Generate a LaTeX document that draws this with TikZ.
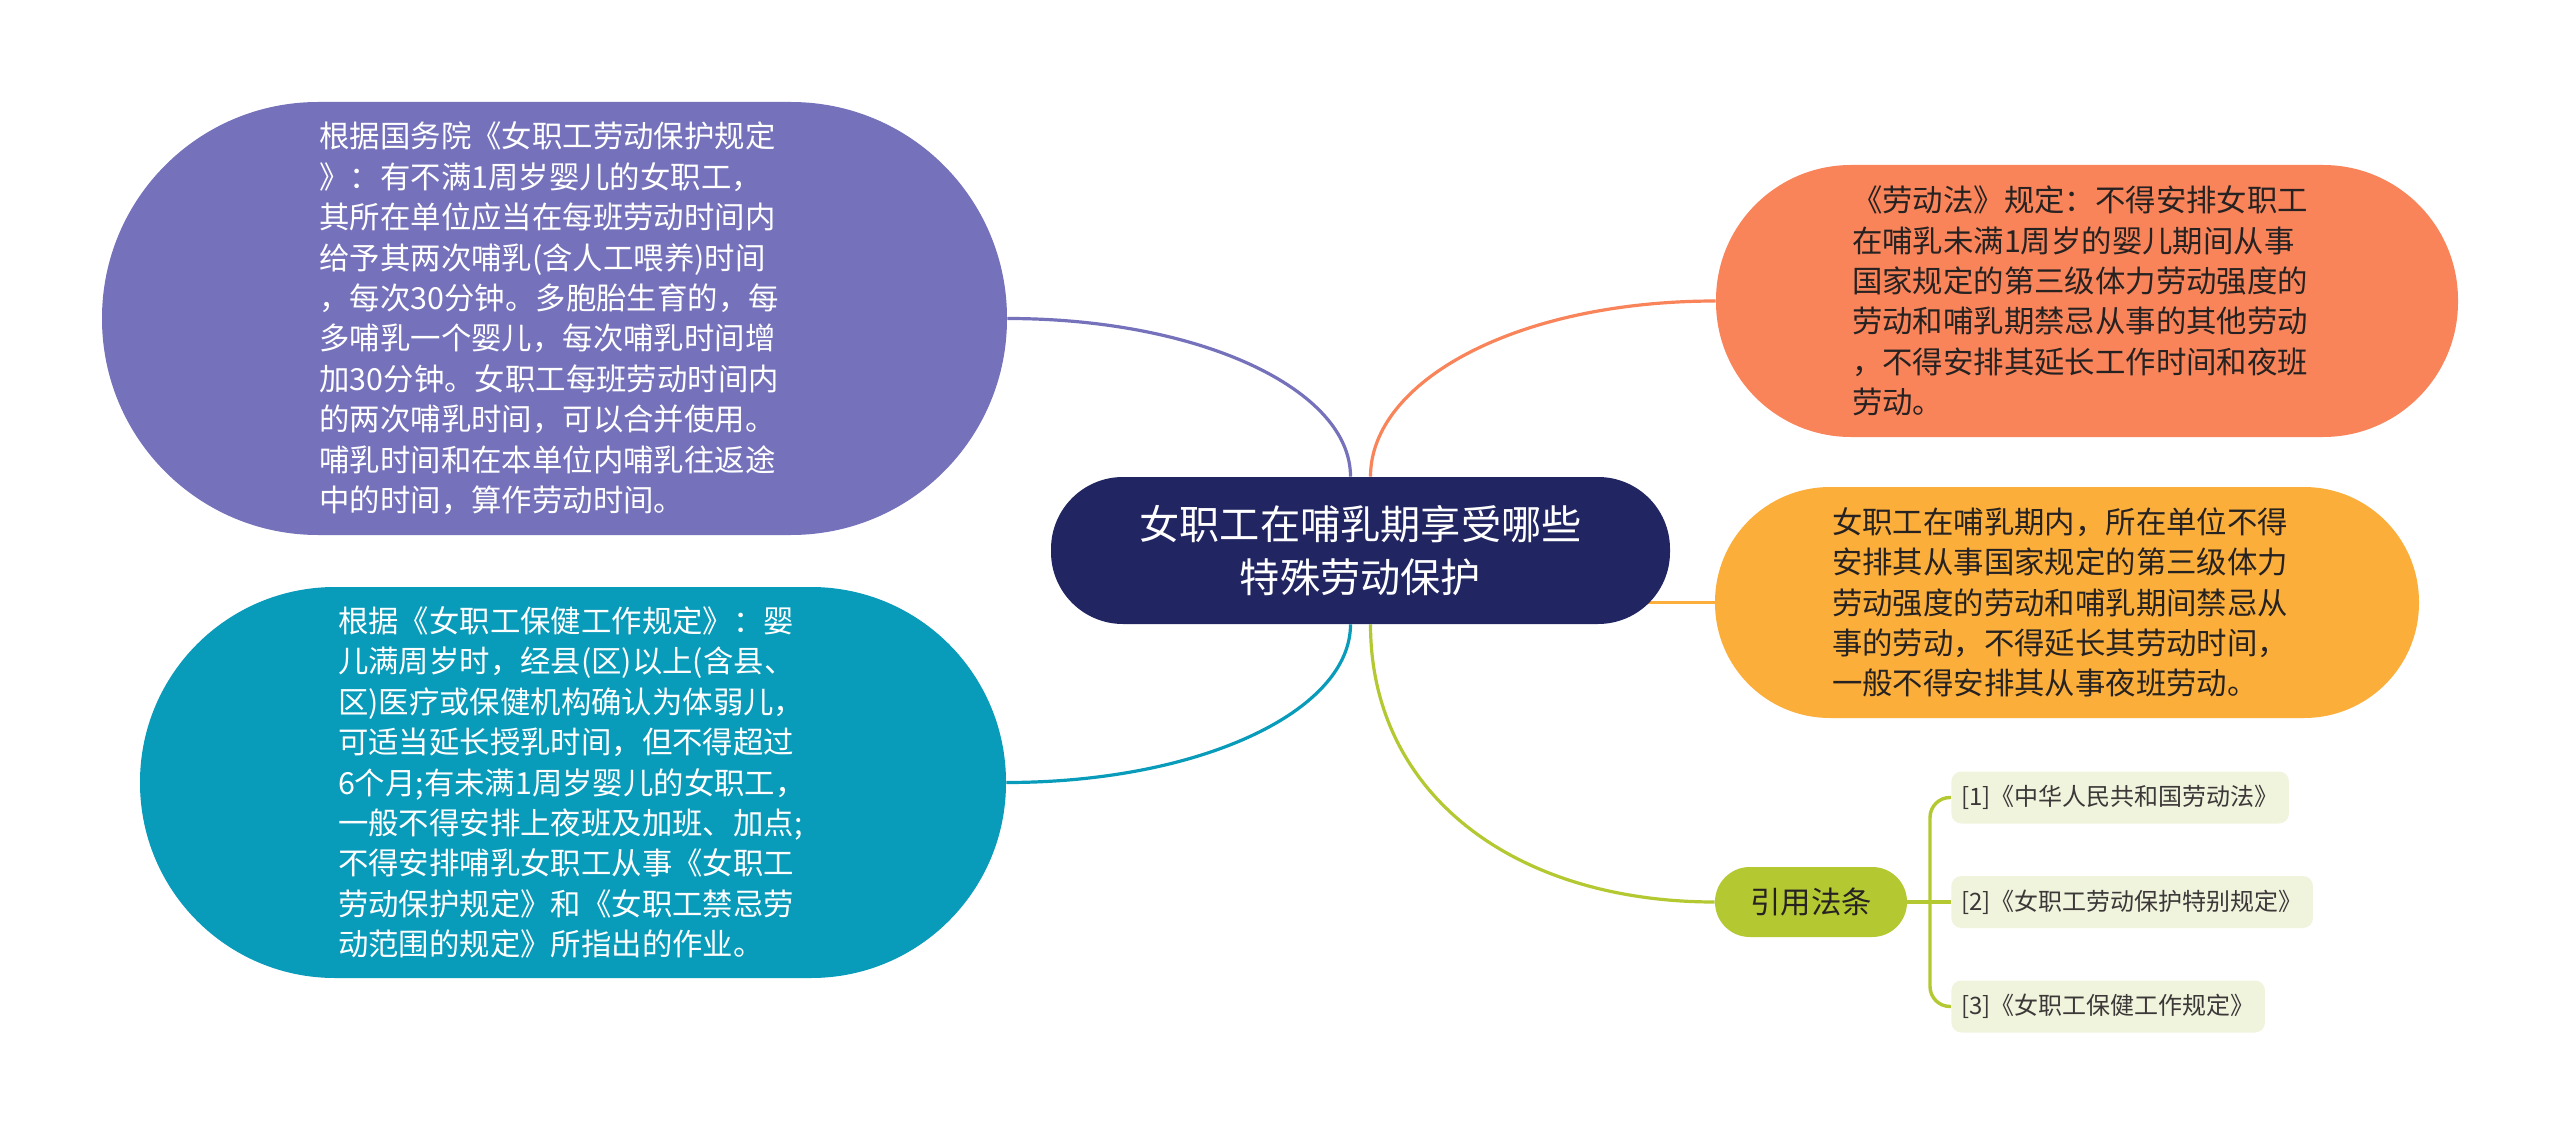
\documentclass[tikz,border=0pt]{standalone}
\usepackage{fontspec}
\setmainfont{Noto Sans CJK SC}
\usetikzlibrary{backgrounds}
\definecolor{mnavy}{RGB}{33,37,98}
\definecolor{mpurple}{RGB}{117,114,187}
\definecolor{mteal}{RGB}{8,155,186}
\definecolor{morange}{RGB}{249,132,90}
\definecolor{myellow}{RGB}{251,174,58}
\definecolor{mgreen}{RGB}{180,200,50}
\definecolor{mpale}{RGB}{241,244,221}
\definecolor{mtext}{RGB}{38,34,34}

\begin{document}
\begin{tikzpicture}[x=0.5pt, y=0.5pt,
  pill/.style={inner sep=0pt, align=left, text width=235pt,
               font=\fontsize{15.2pt}{20.2pt}\selectfont},
  conn/.style={line width=1.6pt},
  refbox/.style={fill=mpale, rounded corners=5pt, anchor=west,
                 minimum height=26pt, inner xsep=5pt, text=mtext!90,
                 font=\fontsize{12pt}{14pt}\selectfont}
]
\useasboundingbox (0,0) rectangle (2560,-1134);

% ── Tema centrale ───────────────────────────────────────
\node[fill=mnavy, text=white, rounded corners=36pt, minimum width=309.5pt,
      minimum height=73.5pt, align=center,
      font=\fontsize{20.1pt}{26.5pt}\selectfont] (main) at (1360.5,-550.5)
  {女职工在哺乳期享受哪些\\特殊劳动保护};

% ── Rami a sinistra ─────────────────────────────────────
\node[pill, fill=mpurple, text=white, minimum width=452.5pt,
      minimum height=216.5pt, rounded corners=108pt] (gwy) at (554.5,-318.5)
  {根据国务院《女职工劳动保护规定\\
   》：有不满1周岁婴儿的女职工，\\
   其所在单位应当在每班劳动时间内\\
   给予其两次哺乳(含人工喂养)时间\\
   ，每次30分钟。多胞胎生育的，每\\
   多哺乳一个婴儿，每次哺乳时间增\\
   加30分钟。女职工每班劳动时间内\\
   的两次哺乳时间，可以合并使用。\\
   哺乳时间和在本单位内哺乳往返途\\
   中的时间，算作劳动时间。};
\node[pill, fill=mteal, text=white, minimum width=433pt,
      minimum height=195.5pt, rounded corners=97.5pt] (bj) at (573,-782.5)
  {根据《女职工保健工作规定》：婴\\
   儿满周岁时，经县(区)以上(含县、\\
   区)医疗或保健机构确认为体弱儿，\\
   可适当延长授乳时间，但不得超过\\
   6个月;有未满1周岁婴儿的女职工，\\
   一般不得安排上夜班及加班、加点;\\
   不得安排哺乳女职工从事《女职工\\
   劳动保护规定》和《女职工禁忌劳\\
   动范围的规定》所指出的作业。};

% ── Rami a destra ───────────────────────────────────────
\node[pill, fill=morange, text=mtext, minimum width=371pt,
      minimum height=136pt, rounded corners=67.5pt] (ldf) at (2087,-301)
  {《劳动法》规定：不得安排女职工\\
   在哺乳未满1周岁的婴儿期间从事\\
   国家规定的第三级体力劳动强度的\\
   劳动和哺乳期禁忌从事的其他劳动\\
   ，不得安排其延长工作时间和夜班\\
   劳动。};
\node[pill, fill=myellow, text=mtext, minimum width=352pt,
      minimum height=115.5pt, rounded corners=57.5pt] (brq) at (2067,-602.5)
  {女职工在哺乳期内，所在单位不得\\
   安排其从事国家规定的第三级体力\\
   劳动强度的劳动和哺乳期间禁忌从\\
   事的劳动，不得延长其劳动时间，\\
   一般不得安排其从事夜班劳动。};
\node[fill=mgreen, text=mtext, minimum width=96pt, minimum height=35pt,
      rounded corners=17.4pt, inner sep=0pt,
      font=\fontsize{15.2pt}{18pt}\selectfont] (yyfl) at (1811,-902) {引用法条};

% ── Fonti ───────────────────────────────────────────────
\node[refbox] (ref1) at (1951,-797.5)  {[1]《中华人民共和国劳动法》};
\node[refbox] (ref2) at (1951,-902)    {[2]《女职工劳动保护特别规定》};
\node[refbox] (ref3) at (1951,-1006.5) {[3]《女职工保健工作规定》};
\coordinate (brk) at (1930,-902);

% ── Collegamenti ────────────────────────────────────────
\begin{scope}[on background layer]
\fill[white] (0,0) rectangle (2560,-1134);
\draw[conn, mpurple] ([xshift=-5pt]main.north) .. controls +(0,87) and +(193,0) .. (gwy.east);
\draw[conn, mteal] ([xshift=-5pt]main.south) .. controls +(0,-87) and +(193,0) .. (bj.east);
\draw[conn, morange] ([xshift=5pt]main.north) .. controls +(0,95) and +(-200,0) .. (ldf.west);
\draw[conn, myellow] (main.center |- brq.west) -- (brq.west);
\draw[conn, mgreen] ([xshift=5pt]main.south) .. controls +(0,-170) and +(-200,0) .. (yyfl.west);
\draw[conn, mgreen, line width=1.7pt] (yyfl.east) -- (ref2.west);
\draw[conn, mgreen, line width=1.7pt, rounded corners=10pt] (ref1.west) -| (brk) |- (ref3.west);
\end{scope}

\end{tikzpicture}
\end{document}
